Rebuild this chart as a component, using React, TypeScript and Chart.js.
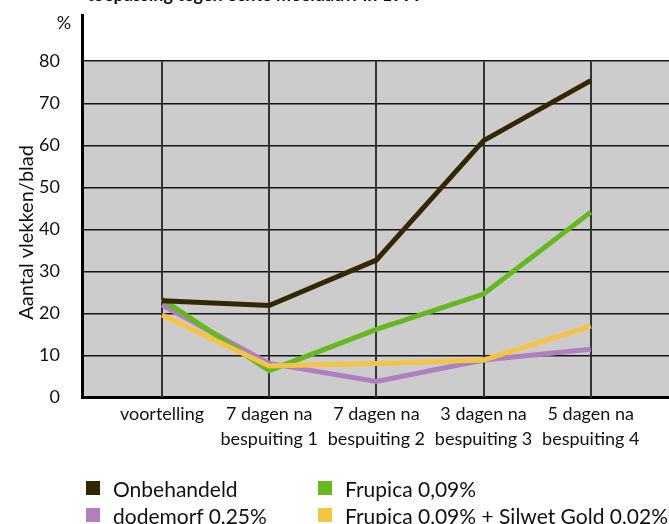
import React, { useEffect, useRef } from 'react';
import { Chart, registerables } from 'chart.js';

Chart.register(...registerables);

const TITLE_TEXT = 'toepassing tegen echte meeldauw in 1999';
const Y_TITLE = 'Aantal vlekken/blad';
const CATEGORIES: string[][] = [
  ['voortelling'],
  ['7 dagen na', 'bespuiting 1'],
  ['7 dagen na', 'bespuiting 2'],
  ['3 dagen na', 'bespuiting 3'],
  ['5 dagen na', 'bespuiting 4'],
];
const Y_TICKS = [0, 10, 20, 30, 40, 50, 60, 70, 80];
const UNIT_LABEL = '%';

const SERIES_NAMES = [
  'Onbehandeld',
  'Frupica 0,09%',
  'dodemorf 0,25%',
  'Frupica 0,09% + Silwet Gold 0,02%',
];
const ONBEHANDELD = [23.0, 21.9, 32.7, 61.1, 75.4];
const FRUPICA = [23.4, 6.4, 16.2, 24.6, 44.1];
const DODEMORF = [22.0, 8.1, 3.8, 8.9, 11.5];
const FRUPICA_SILWET = [19.6, 7.5, 8.1, 8.9, 17.0];

const COLORS = ['#332600', '#66b821', '#b07fc0', '#f5c445'];

const FONT = 'Lato, "Open Sans", sans-serif';

const toPoints = (arr: number[]) => arr.map((y, i) => ({ x: i, y }));

const plotPlugin = {
  id: 'plotBackground',
  beforeDraw(chart: any) {
    const { ctx, chartArea, scales } = chart;
    const y = scales.y;
    const top = y.getPixelForValue(Y_TICKS[Y_TICKS.length - 1]);
    const bottom = y.getPixelForValue(0);
    ctx.save();
    ctx.fillStyle = '#cccccc';
    ctx.fillRect(chartArea.left, top, chartArea.right - chartArea.left, bottom - top);
    ctx.restore();
  },
  beforeDatasetsDraw(chart: any) {
    const { ctx, scales } = chart;
    const x = scales.x;
    const y = scales.y;
    const top = y.getPixelForValue(Y_TICKS[Y_TICKS.length - 1]);
    const bottom = y.getPixelForValue(0);
    ctx.save();
    ctx.strokeStyle = '#333333';
    ctx.lineWidth = 2;
    CATEGORIES.forEach((_, i) => {
      const px = Math.round(x.getPixelForValue(i));
      ctx.beginPath();
      ctx.moveTo(px, top);
      ctx.lineTo(px, bottom);
      ctx.stroke();
    });
    ctx.restore();
  },
  afterDraw(chart: any) {
    const { ctx, scales } = chart;
    const y = scales.y;
    ctx.save();
    // unit label above the axis
    ctx.font = `18px ${FONT}`;
    ctx.fillStyle = '#111111';
    ctx.textAlign = 'center';
    ctx.textBaseline = 'middle';
    ctx.fillText(UNIT_LABEL, 64, y.getPixelForValue(89));
    // rotated axis title
    const centerY = y.getPixelForValue(40) + 3;
    ctx.translate(27, centerY);
    ctx.rotate(-Math.PI / 2);
    ctx.font = `20px ${FONT}`;
    ctx.fillText(Y_TITLE, 0, 0);
    ctx.restore();
  },
};

export default function App() {
  const ref = useRef<HTMLCanvasElement | null>(null);

  useEffect(() => {
    if (!ref.current) return;
    const chart = new Chart(ref.current, {
      type: 'line',
      data: {
        datasets: [
          { label: SERIES_NAMES[0], data: toPoints(ONBEHANDELD), borderColor: COLORS[0] },
          { label: SERIES_NAMES[3], data: toPoints(FRUPICA_SILWET), borderColor: COLORS[3] },
          { label: SERIES_NAMES[1], data: toPoints(FRUPICA), borderColor: COLORS[1] },
          { label: SERIES_NAMES[2], data: toPoints(DODEMORF), borderColor: COLORS[2] },
        ].map((d) => ({
          ...d,
          borderWidth: 5,
          pointRadius: 0,
          tension: 0,
          fill: false,
          borderJoinStyle: 'miter' as const,
        })),
      },
      options: {
        animation: false,
        responsive: false,
        maintainAspectRatio: false,
        layout: { padding: { top: 15, right: 0, bottom: 66.5, left: 0 } },
        plugins: {
          legend: { display: false },
          tooltip: { enabled: false },
          title: { display: false },
        },
        scales: {
          x: {
            type: 'linear',
            min: -0.746,
            max: 4.73,
            afterBuildTicks: (scale: any) => {
              scale.ticks = CATEGORIES.map((_, i) => ({ value: i }));
            },
            afterFit: (scale: any) => {
              scale.height = 60;
              scale.paddingLeft = 0;
              scale.paddingRight = 0;
            },
            grid: { display: false, drawTicks: false },
            border: { display: true, color: '#000000', width: 3 },
            ticks: {
              autoSkip: false,
              maxRotation: 0,
              minRotation: 0,
              padding: 4,
              color: '#111111',
              font: { family: FONT, size: 18, lineHeight: 1.4 },
              callback: (v: any) => CATEGORIES[Math.round(Number(v))] ?? '',
            },
          },
          y: {
            type: 'linear',
            min: 0,
            max: 91,
            afterBuildTicks: (scale: any) => {
              scale.ticks = Y_TICKS.map((v) => ({ value: v }));
            },
            afterFit: (scale: any) => {
              scale.width = 82;
              scale.paddingTop = 0;
              scale.paddingBottom = 0;
            },
            grid: {
              drawTicks: false,
              color: '#151515',
              lineWidth: 1.5,
            },
            border: { display: true, color: '#000000', width: 3 },
            ticks: {
              padding: 22,
              color: '#111111',
              font: { family: FONT, size: 18 },
              callback: (v: any) => String(v),
            },
            title: { display: false },
          },
        },
      },
      plugins: [plotPlugin],
    } as any);
    return () => chart.destroy();
  }, []);

  const legendItem = (i: number, left: number, top: number) => (
    <div
      key={i}
      style={{
        position: 'absolute',
        left,
        top,
        display: 'flex',
        alignItems: 'center',
        whiteSpace: 'nowrap',
        font: `21px ${FONT}`,
        color: '#111111',
        height: 20,
      }}
    >
      <span
        style={{
          display: 'inline-block',
          width: 14,
          height: 14,
          background: COLORS[i],
          marginRight: 13,
        }}
      />
      <span>{SERIES_NAMES[i]}</span>
    </div>
  );

  return (
    <div
      style={{
        position: 'absolute',
        left: 0,
        top: 0,
        width: 669,
        height: 524,
        overflow: 'hidden',
        background: '#ffffff',
      }}
    >
      <div
        style={{
          position: 'absolute',
          left: 87,
          top: -15,
          font: `bold 18px ${FONT}`,
          lineHeight: '18px',
          whiteSpace: 'nowrap',
          color: '#111111',
        }}
      >
        {TITLE_TEXT}
      </div>
      <canvas ref={ref} width={669} height={524} style={{ display: 'block' }} />
      {legendItem(0, 86, 478)}
      {legendItem(2, 86, 505)}
      {legendItem(1, 318, 478)}
      {legendItem(3, 318, 505)}
    </div>
  );
}
